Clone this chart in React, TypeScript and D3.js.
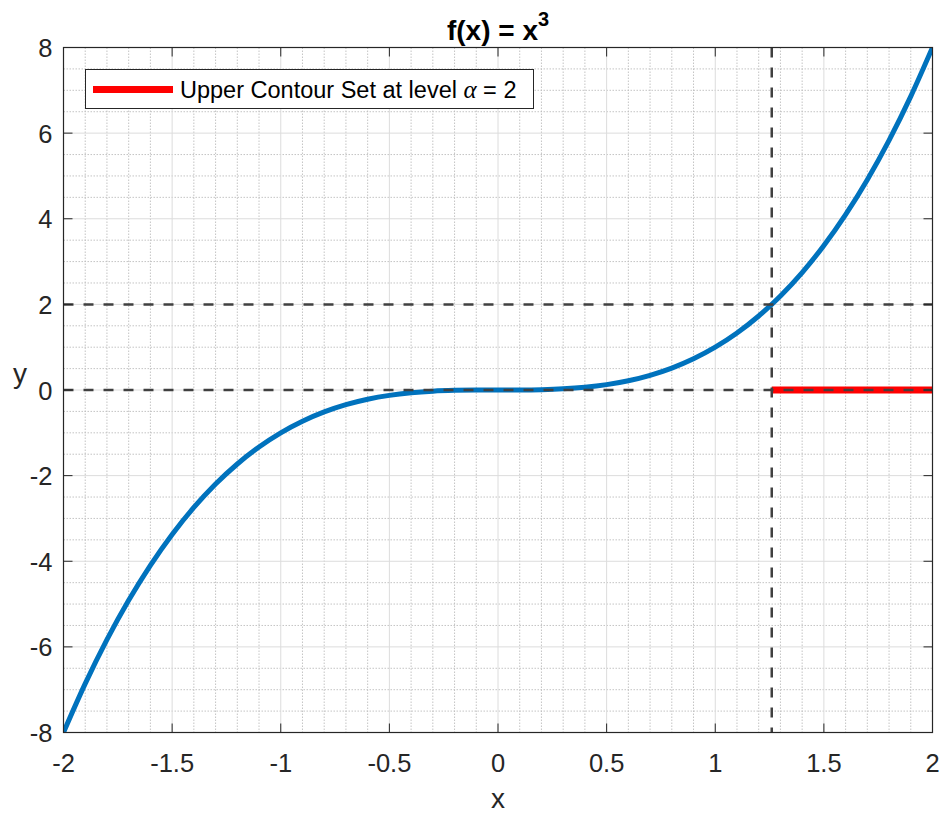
import * as React from "react";
import { useRef, useEffect } from "react";
import * as d3 from "d3";

// sampled points of the plotted curve
const xValues = [
  -2.0, -1.9, -1.8, -1.7, -1.6, -1.5, -1.4, -1.3, -1.2, -1.1, -1.0, -0.9, -0.8, -0.7,
  -0.6, -0.5, -0.4, -0.3, -0.2, -0.1, 0, 0.1, 0.2, 0.3, 0.4, 0.5, 0.6, 0.7, 0.8, 0.9,
  1.0, 1.1, 1.2, 1.3, 1.4, 1.5, 1.6, 1.7, 1.8, 1.9, 2.0,
];
const yValues = [
  -8, -6.859, -5.832, -4.913, -4.096, -3.375, -2.744, -2.197, -1.728, -1.331, -1,
  -0.729, -0.512, -0.343, -0.216, -0.125, -0.064, -0.027, -0.008, -0.001, 0, 0.001,
  0.008, 0.027, 0.064, 0.125, 0.216, 0.343, 0.512, 0.729, 1, 1.331, 1.728, 2.197,
  2.744, 3.375, 4.096, 4.913, 5.832, 6.859, 8,
];

const xTicks = [-2, -1.5, -1, -0.5, 0, 0.5, 1, 1.5, 2];
const yTicks = [-8, -6, -4, -2, 0, 2, 4, 6, 8];
const xTickLabels = ["-2", "-1.5", "-1", "-0.5", "0", "0.5", "1", "1.5", "2"];
const yTickLabels = ["-8", "-6", "-4", "-2", "0", "2", "4", "6", "8"];

const alphaLevel = 2;
const contourStart = 1.26; // cube root of alpha
const contourSet = [contourStart, 2];

const App = () => {
  const svgRef = useRef(null);

  useEffect(() => {
    const W = 940;
    const H = 813;
    const margin = { top: 47.5, right: 7.5, bottom: 80.5, left: 63.5 };
    const width = W - margin.left - margin.right;
    const height = H - margin.top - margin.bottom;
    const font = "'Liberation Sans', Arial, Helvetica, sans-serif";

    const svg = d3.select(svgRef.current).attr("width", W).attr("height", H);
    svg.selectAll("*").remove();

    const g = svg
      .append("g")
      .attr("transform", `translate(${margin.left},${margin.top})`);

    const x = d3.scaleLinear().domain([-2, 2]).range([0, width]);
    const y = d3.scaleLinear().domain([-8, 8]).range([height, 0]);

    g.append("rect")
      .attr("width", width)
      .attr("height", height)
      .attr("fill", "#fff");

    svg
      .append("defs")
      .append("clipPath")
      .attr("id", "plot-clip")
      .append("rect")
      .attr("width", width)
      .attr("height", height);

    // Minor grid
    const xMinor = d3.range(-20, 21).map((i) => i / 10).filter((v) => Math.abs(v * 2 - Math.round(v * 2)) > 1e-6);
    const yMinor = d3.range(-16, 17).map((i) => i / 2).filter((v) => Math.round(v) % 2 !== 0 || v % 1 !== 0);
    g.append("g")
      .selectAll("line")
      .data(xMinor)
      .enter()
      .append("line")
      .attr("x1", (d) => x(d))
      .attr("x2", (d) => x(d))
      .attr("y1", 0)
      .attr("y2", height)
      .attr("stroke", "#bdbdbd")
      .attr("stroke-width", 0.9)
      .attr("stroke-dasharray", "1.5,1.5");
    g.append("g")
      .selectAll("line")
      .data(yMinor)
      .enter()
      .append("line")
      .attr("y1", (d) => y(d))
      .attr("y2", (d) => y(d))
      .attr("x1", 0)
      .attr("x2", width)
      .attr("stroke", "#bdbdbd")
      .attr("stroke-width", 0.9)
      .attr("stroke-dasharray", "1.5,1.5");

    // Major grid
    g.append("g")
      .selectAll("line")
      .data(xTicks)
      .enter()
      .append("line")
      .attr("x1", (d) => x(d))
      .attr("x2", (d) => x(d))
      .attr("y1", 0)
      .attr("y2", height)
      .attr("stroke", "#dcdcdc")
      .attr("stroke-width", 1);
    g.append("g")
      .selectAll("line")
      .data(yTicks)
      .enter()
      .append("line")
      .attr("y1", (d) => y(d))
      .attr("y2", (d) => y(d))
      .attr("x1", 0)
      .attr("x2", width)
      .attr("stroke", "#dcdcdc")
      .attr("stroke-width", 1);

    const plot = g.append("g").attr("clip-path", "url(#plot-clip)");

    // Curve
    const line = d3
      .line()
      .x((d) => x(d[0]))
      .y((d) => y(d[1]))
      .curve(d3.curveMonotoneX);
    plot
      .append("path")
      .datum(xValues.map((v, i) => [v, yValues[i]]))
      .attr("fill", "none")
      .attr("stroke", "#0072BD")
      .attr("stroke-width", 5)
      .attr("d", line);

    // Upper contour set on the x axis
    plot
      .append("line")
      .attr("x1", x(contourSet[0]))
      .attr("x2", x(contourSet[1]))
      .attr("y1", y(0))
      .attr("y2", y(0))
      .attr("stroke", "#ff0000")
      .attr("stroke-width", 7);

    // Reference dashed lines
    const dash = { stroke: "#404040", width: 2.5, array: "10,10" };
    [0, alphaLevel].forEach((v) => {
      plot
        .append("line")
        .attr("x1", 0)
        .attr("x2", width)
        .attr("y1", y(v))
        .attr("y2", y(v))
        .attr("stroke", dash.stroke)
        .attr("stroke-width", dash.width)
        .attr("stroke-dasharray", dash.array);
    });
    plot
      .append("line")
      .attr("x1", x(contourStart))
      .attr("x2", x(contourStart))
      .attr("y1", 0)
      .attr("y2", height)
      .attr("stroke", dash.stroke)
      .attr("stroke-width", dash.width)
      .attr("stroke-dasharray", dash.array);

    // Axes box with inward ticks
    const axisColor = "#262626";
    const tickLen = 9;
    const ticks = g.append("g").attr("stroke", axisColor).attr("stroke-width", 1);
    xTicks.forEach((t) => {
      ticks.append("line").attr("x1", x(t)).attr("x2", x(t)).attr("y1", height).attr("y2", height - tickLen);
      ticks.append("line").attr("x1", x(t)).attr("x2", x(t)).attr("y1", 0).attr("y2", tickLen);
    });
    yTicks.forEach((t) => {
      ticks.append("line").attr("x1", 0).attr("x2", tickLen).attr("y1", y(t)).attr("y2", y(t));
      ticks.append("line").attr("x1", width).attr("x2", width - tickLen).attr("y1", y(t)).attr("y2", y(t));
    });
    g.append("rect")
      .attr("width", width)
      .attr("height", height)
      .attr("fill", "none")
      .attr("stroke", axisColor)
      .attr("stroke-width", 1.2);

    // Tick labels
    g.append("g")
      .selectAll("text")
      .data(xTicks)
      .enter()
      .append("text")
      .attr("x", (d) => x(d))
      .attr("y", height + 39)
      .attr("text-anchor", "middle")
      .attr("font-family", font)
      .attr("font-size", 25.5)
      .attr("fill", "#262626")
      .text((d, i) => xTickLabels[i]);
    g.append("g")
      .selectAll("text")
      .data(yTicks)
      .enter()
      .append("text")
      .attr("x", -11)
      .attr("y", (d) => y(d) + 9.5)
      .attr("text-anchor", "end")
      .attr("font-family", font)
      .attr("font-size", 25.5)
      .attr("fill", "#262626")
      .text((d, i) => yTickLabels[i]);

    // Axis labels
    svg
      .append("text")
      .attr("x", margin.left + width / 2)
      .attr("y", 808)
      .attr("text-anchor", "middle")
      .attr("font-family", font)
      .attr("font-size", 28)
      .attr("fill", "#262626")
      .text("x");
    svg
      .append("text")
      .attr("x", 20)
      .attr("y", 383)
      .attr("text-anchor", "middle")
      .attr("font-family", font)
      .attr("font-size", 28)
      .attr("fill", "#262626")
      .text("y");

    // Title
    const title = svg
      .append("text")
      .attr("x", margin.left + width / 2)
      .attr("y", 40)
      .attr("text-anchor", "middle")
      .attr("font-family", font)
      .attr("font-size", 28)
      .attr("font-weight", "bold")
      .attr("fill", "#000");
    title.append("tspan").text("f(x) = x");
    title.append("tspan").attr("dy", -14).attr("font-size", 20).text("3");

    // Legend
    const legend = svg.append("g");
    legend
      .append("rect")
      .attr("x", 85.5)
      .attr("y", 69.5)
      .attr("width", 448)
      .attr("height", 39)
      .attr("fill", "#fff")
      .attr("stroke", "#262626")
      .attr("stroke-width", 1);
    legend
      .append("line")
      .attr("x1", 93)
      .attr("x2", 173)
      .attr("y1", 89.5)
      .attr("y2", 89.5)
      .attr("stroke", "#ff0000")
      .attr("stroke-width", 7);
    const lt = legend
      .append("text")
      .attr("x", 180)
      .attr("y", 98)
      .attr("font-family", font)
      .attr("font-size", 23.5)
      .attr("fill", "#000");
    lt.append("tspan").text("Upper Contour Set at level ");
    lt.append("tspan")
      .attr("font-family", "'Liberation Serif', 'DejaVu Serif', serif")
      .attr("font-style", "italic")
      .attr("font-size", 25)
      .text("\u03b1");
    lt.append("tspan").text(` = ${alphaLevel}`);
  }, []);

  return (
    <svg
      ref={svgRef}
      style={{ position: "absolute", left: 0, top: 0, display: "block" }}
    ></svg>
  );
};

export default App;
